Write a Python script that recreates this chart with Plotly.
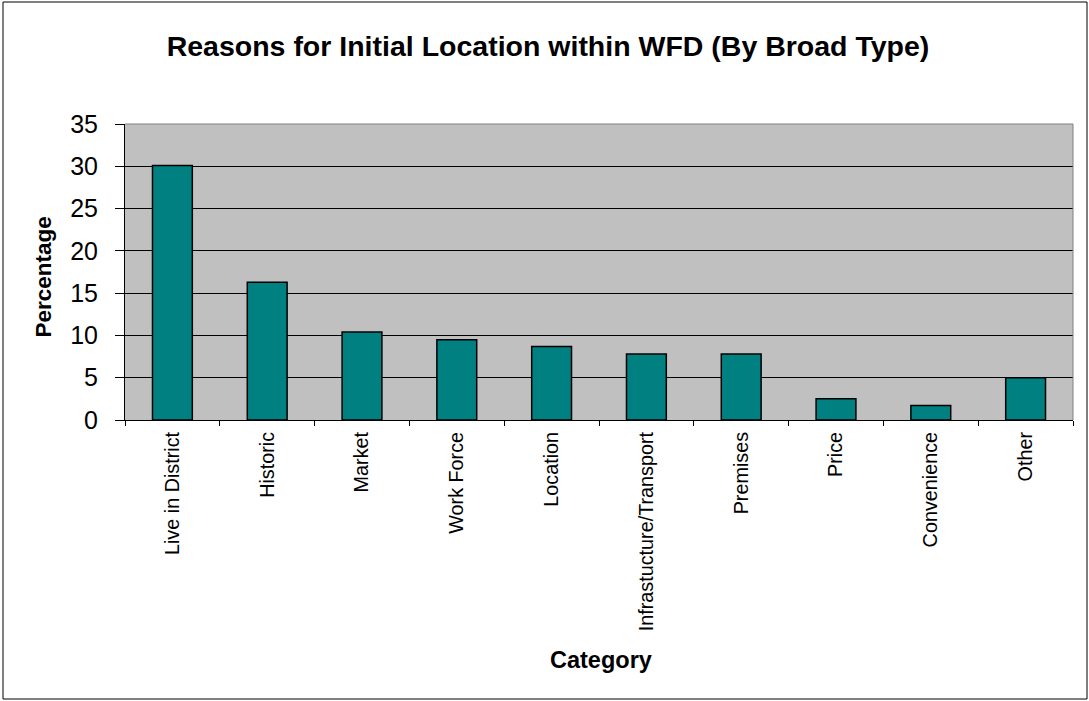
import plotly.graph_objects as go

categories = ["Live in District", "Historic", "Market", "Work Force", "Location",
              "Infrastucture/Transport", "Premises", "Price", "Convenience", "Other"]
values = [30.1, 16.3, 10.4, 9.5, 8.7, 7.8, 7.8, 2.5, 1.7, 5.0]
y_ticks = [0, 5, 10, 15, 20, 25, 30, 35]

FONT = "Arial, Liberation Sans, sans-serif"

fig = go.Figure(go.Bar(
    x=categories, y=values,
    marker=dict(color="#008080", line=dict(color="black", width=1.5)),
))

W, H = 1089, 701
L, R, T, B = 125, 16, 124, 281
pw, ph = W - L - R, H - T - B

def px_x(x):
    return (x - L) / pw

def px_y(y):
    return (H - B - y) / ph

fig.update_layout(
    width=W, height=H,
    margin=dict(l=L, r=R, t=T, b=B, pad=0),
    paper_bgcolor="white",
    plot_bgcolor="#C0C0C0",
    bargap=0.58,
    showlegend=False,
    font=dict(family=FONT, color="black"),
    title=dict(text="<b>Reasons for Initial Location within WFD (By Broad Type)</b>",
               x=548 / W, xanchor="center", y=1 - 46 / H, yanchor="middle",
               xref="container", yref="container",
               font=dict(size=28.5, family=FONT, color="black")),
    xaxis=dict(
        showline=True, linecolor="black", linewidth=1,
        ticks="outside", ticklen=5, tickcolor="black", tickson="boundaries",
        ticklabelstandoff=3,
        tickangle=-90, tickfont=dict(size=19.8, family=FONT, color="black"),
        showgrid=False, zeroline=False,
    ),
    yaxis=dict(
        range=[0, 35], tickvals=y_ticks,
        showline=True, linecolor="black", linewidth=1,
        ticks="outside", ticklen=9, tickcolor="black",
        ticklabelstandoff=12,
        tickfont=dict(size=25, family=FONT, color="black"),
        showgrid=True, gridcolor="black", gridwidth=1, zeroline=False,
    ),
    annotations=[
        dict(text="<b>Percentage</b>", xref="paper", yref="paper",
             x=px_x(42.5), y=px_y(277), textangle=-90, showarrow=False,
             xanchor="center", yanchor="middle",
             font=dict(size=22.5, family=FONT, color="black")),
        dict(text="<b>Category</b>", xref="paper", yref="paper",
             x=px_x(601), y=px_y(660), showarrow=False,
             xanchor="center", yanchor="middle",
             font=dict(size=23.5, family=FONT, color="black")),
    ],
    shapes=[
        dict(type="line", xref="paper", yref="paper", x0=0, x1=1, y0=1, y1=1,
             line=dict(color="#808080", width=1), layer="above"),
        dict(type="line", xref="paper", yref="paper", x0=1, x1=1, y0=0, y1=1,
             line=dict(color="#808080", width=1), layer="above"),
        dict(type="rect", xref="paper", yref="paper",
             x0=px_x(3), x1=px_x(1087), y0=px_y(699), y1=px_y(2),
             line=dict(color="black", width=1), fillcolor="rgba(0,0,0,0)"),
    ],
)

fig.write_html("out.html")
